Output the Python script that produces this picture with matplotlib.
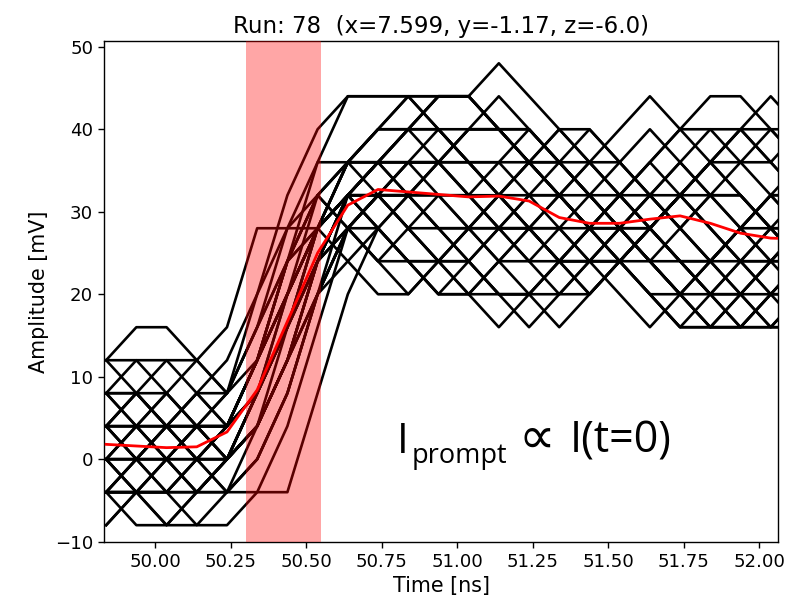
import matplotlib
matplotlib.use("Agg")
import matplotlib.pyplot as plt

# sample times [ns]
times = [49.838, 49.938, 50.038, 50.138, 50.238, 50.338, 50.438, 50.538,
         50.638, 50.738, 50.838, 50.938, 51.038, 51.138, 51.238, 51.338,
         51.438, 51.538, 51.638, 51.738, 51.838, 51.938, 52.038, 52.138]

# individual waveforms [mV]
waveforms = [
    [12, 16, 16, 12, 16, 28, 28, 28, 32, 36, 40, 44, 44, 48, 44, 40, 36, 32, 28, 24, 20, 16, 16, 20],
    [8, 12, 12, 8, 4, 12, 24, 36, 44, 44, 44, 40, 36, 32, 28, 24, 20, 24, 28, 32, 36, 40, 36, 32],
    [4, 8, 12, 12, 8, 20, 32, 40, 44, 44, 44, 44, 44, 40, 36, 32, 28, 24, 20, 16, 16, 20, 24, 28],
    [0, 4, 8, 12, 8, 12, 20, 28, 36, 40, 40, 40, 40, 40, 36, 36, 36, 32, 28, 24, 20, 16, 16, 16],
    [-4, 0, 4, 8, 12, 20, 28, 32, 28, 24, 24, 24, 24, 20, 20, 24, 28, 32, 36, 40, 44, 44, 40, 36],
    [-8, -4, 0, 4, 4, 8, 16, 28, 36, 40, 44, 40, 36, 32, 28, 24, 24, 24, 28, 32, 36, 36, 36, 40],
    [0, -4, -8, -8, -4, 0, 8, 20, 32, 36, 32, 28, 24, 20, 16, 20, 24, 28, 32, 28, 24, 20, 16, 16],
    [-4, -4, -4, -4, -4, -4, -4, 8, 20, 28, 32, 36, 40, 40, 40, 36, 32, 28, 24, 24, 24, 28, 32, 36],
    [4, 0, -4, -8, -8, -4, 4, 16, 28, 32, 32, 32, 28, 24, 20, 16, 20, 24, 28, 32, 36, 40, 40, 36],
    [8, 4, 0, -4, 0, 8, 16, 24, 32, 32, 36, 36, 32, 32, 28, 28, 24, 24, 20, 20, 24, 28, 28, 24],
    [0, 0, 4, 4, 0, 4, 12, 24, 32, 36, 40, 44, 44, 40, 36, 32, 28, 24, 24, 28, 32, 32, 28, 24],
    [4, 4, 0, 0, 4, 12, 20, 28, 32, 36, 36, 36, 32, 28, 24, 20, 20, 24, 28, 32, 36, 40, 44, 40],
    [12, 8, 4, 0, 0, 4, 12, 20, 28, 32, 36, 40, 36, 32, 32, 32, 28, 28, 24, 20, 16, 20, 24, 28],
    [-4, 0, 0, -4, -4, 0, 8, 20, 28, 28, 24, 20, 24, 28, 32, 36, 40, 36, 32, 28, 24, 20, 20, 20],
    [0, 4, 4, 0, -4, 4, 16, 28, 36, 40, 44, 44, 44, 40, 36, 32, 32, 32, 28, 24, 20, 20, 16, 20],
    [4, 8, 4, 0, 0, 8, 16, 28, 32, 32, 28, 24, 28, 32, 36, 36, 32, 28, 24, 20, 16, 16, 20, 24],
    [-4, -8, -8, -4, 0, 4, 12, 24, 28, 24, 20, 24, 28, 32, 36, 40, 40, 36, 32, 28, 24, 28, 32, 32],
    [8, 8, 4, 4, 8, 16, 24, 28, 36, 40, 40, 36, 32, 28, 24, 28, 32, 36, 40, 36, 32, 28, 24, 24],
    [0, -4, 0, 4, 4, 12, 24, 28, 24, 20, 20, 24, 28, 28, 28, 24, 20, 24, 28, 32, 28, 24, 20, 20],
    [4, 0, 0, 4, 8, 16, 28, 36, 36, 36, 40, 40, 36, 36, 36, 32, 28, 32, 36, 32, 28, 24, 20, 16],
    [-4, -4, 0, 0, 0, 4, 12, 20, 28, 32, 32, 32, 32, 36, 40, 36, 32, 28, 24, 20, 24, 28, 32, 28],
    [8, 4, 4, 8, 4, 12, 20, 28, 32, 32, 28, 28, 28, 28, 28, 24, 24, 24, 28, 32, 36, 32, 28, 28],
    [0, 0, -4, -4, 0, 8, 20, 32, 28, 24, 28, 32, 32, 28, 28, 28, 24, 20, 16, 20, 24, 28, 32, 32],
    [4, 4, 8, 4, 0, 4, 12, 24, 28, 32, 28, 24, 20, 24, 28, 32, 36, 40, 44, 40, 36, 32, 28, 24],
    [-8, -4, -4, 0, 4, 12, 20, 28, 32, 28, 24, 24, 24, 28, 32, 32, 28, 24, 20, 16, 16, 16, 20, 24],
    [0, 4, 0, -4, 0, 8, 16, 24, 28, 32, 36, 36, 36, 32, 28, 24, 24, 28, 32, 36, 40, 40, 36, 32],
    [12, 12, 8, 4, 4, 8, 16, 24, 32, 36, 40, 44, 44, 40, 36, 32, 28, 28, 28, 24, 20, 20, 24, 28],
    [-4, 0, 4, 4, 0, 4, 12, 24, 32, 32, 32, 28, 24, 20, 20, 20, 24, 28, 32, 36, 32, 28, 24, 20],
    [4, 0, 4, 8, 8, 16, 24, 32, 36, 36, 32, 28, 28, 32, 36, 40, 36, 32, 28, 24, 24, 24, 24, 28],
    [0, -4, -4, 0, 4, 12, 24, 32, 36, 32, 28, 24, 20, 16, 20, 24, 28, 32, 32, 32, 28, 24, 24, 24],
    [8, 8, 8, 4, 0, 4, 12, 20, 24, 28, 32, 36, 40, 40, 40, 36, 32, 28, 24, 20, 20, 24, 28, 32],
    [-4, -4, -8, -4, 0, 8, 20, 28, 32, 36, 36, 32, 28, 24, 24, 24, 28, 32, 36, 40, 40, 36, 32, 28],
    [4, 4, 4, 0, -4, 0, 8, 20, 28, 32, 32, 36, 40, 44, 40, 36, 32, 28, 24, 20, 16, 16, 20, 24],
    [0, 0, 0, 4, 4, 12, 20, 28, 32, 28, 24, 20, 20, 24, 28, 32, 36, 36, 32, 28, 32, 36, 40, 40],
    [4, 8, 4, 4, 4, 12, 24, 32, 36, 36, 36, 36, 36, 36, 32, 28, 28, 28, 28, 32, 32, 32, 28, 24],
    [-4, -4, -4, 0, 4, 8, 16, 24, 32, 28, 24, 20, 20, 20, 20, 24, 28, 24, 20, 16, 20, 24, 28, 28],
]

# average waveform [mV]
mean_wave = [1.8, 1.6, 1.4, 1.5, 3.3, 8.4, 16.7, 25.0, 30.8, 32.7, 32.4, 32.1,
             31.8, 31.9, 31.3, 29.3, 28.6, 28.6, 29.1, 29.5, 28.6, 27.4, 26.8, 26.7]

prompt_window = [50.30, 50.55]

title = "Run: 78  (x=7.599, y=-1.17, z=-6.0)"

fig = plt.figure(figsize=(7.94, 6.03), dpi=100)
ax = fig.add_axes([0.1314, 0.1017, 0.8488, 0.8303])

for w in waveforms:
    ax.plot(times, w, color="black", lw=1.9, zorder=2)

ax.plot(times, mean_wave, color="red", lw=2.0, zorder=3)

ax.axvspan(prompt_window[0], prompt_window[1], color="red", alpha=0.35, lw=0, zorder=5)

ax.set_xlim(49.832, 52.063)
ax.set_ylim(-10, 50.7)
ax.set_xticks([50.0, 50.25, 50.5, 50.75, 51.0, 51.25, 51.5, 51.75, 52.0])
ax.set_xticklabels(["50.00", "50.25", "50.50", "50.75", "51.00", "51.25", "51.50", "51.75", "52.00"])
ax.set_yticks([-10, 0, 10, 20, 30, 40, 50])
ax.tick_params(labelsize=13.1, length=4.5, width=1.0)
for s in ax.spines.values():
    s.set_linewidth(1.0)
ax.set_xlabel("Time [ns]", fontsize=14.9)
ax.set_ylabel("Amplitude [mV]", fontsize=14.9)
ax.set_title(title, fontsize=16.5)

fam = ["Open Sans", "DejaVu Sans"]
fig.text(397 / 794, 1 - 453 / 603, "I", fontsize=30, family=fam, va="baseline", ha="left")
fig.text(412 / 794, 1 - 463 / 603, "prompt", fontsize=19.5, family=fam, va="baseline", ha="left")
fig.text(519 / 794, 1 - 453 / 603, "\u221d", fontsize=37, family=fam, va="baseline", ha="left")
fig.text(570 / 794, 1 - 453 / 603, "I(t=0)", fontsize=31, family=fam, va="baseline", ha="left")

fig.savefig("out.png", dpi=100)
